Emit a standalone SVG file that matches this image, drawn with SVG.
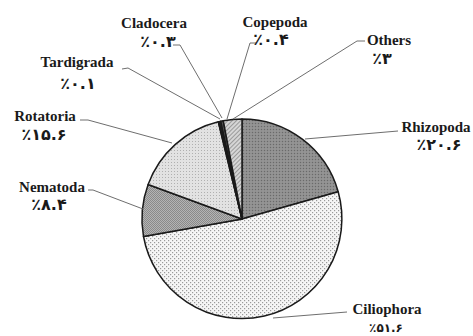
<svg xmlns="http://www.w3.org/2000/svg" width="473" height="336" viewBox="0 0 473 336">
<style>
.lbl{font-family:"Liberation Serif","Times New Roman",serif;font-weight:bold;font-size:15px;fill:#1a1a1a;text-anchor:middle}
.pct{font-family:"DejaVu Sans",sans-serif;font-weight:bold;font-size:16px;fill:#1a1a1a;text-anchor:middle}
.lead{fill:none;stroke:#6e6e6e;stroke-width:1}
.slice{stroke:#1a1a1a;stroke-width:1.5;stroke-linejoin:round}
</style>
<defs>
<pattern id="pRhizo" width="3" height="3" patternUnits="userSpaceOnUse"><rect width="3" height="3" fill="#8e8e8e"/><rect x="0" y="0" width="1" height="1" fill="#6a6a6a"/><rect x="1.5" y="1.5" width="1" height="1" fill="#a8a8a8"/></pattern>
<pattern id="pCilio" width="4" height="4" patternUnits="userSpaceOnUse"><rect width="4" height="4" fill="#f6f6f6"/><rect x="0" y="0" width="1.2" height="1.2" fill="#9a9a9a"/><rect x="2" y="2" width="1.2" height="1.2" fill="#9a9a9a"/></pattern>
<pattern id="pNema" width="2" height="2" patternUnits="userSpaceOnUse"><rect width="2" height="2" fill="#b4b4b4"/><rect width="1" height="1" fill="#8a8a8a"/><rect x="1" y="1" width="1" height="1" fill="#8a8a8a"/></pattern>
<pattern id="pRota" width="3" height="3" patternUnits="userSpaceOnUse"><rect width="3" height="3" fill="#e2e2e2"/><rect width="1" height="1" fill="#b0b0b0"/></pattern>
<pattern id="pOther" width="3" height="3" patternUnits="userSpaceOnUse" patternTransform="rotate(45)"><rect width="3" height="3" fill="#d6d6d6"/><rect width="1" height="3" fill="#9a9a9a"/></pattern>
</defs>
<g id="pie">
<g id="Rhizopoda-slice"><path class="slice" fill="url(#pRhizo)" d="M242,219 L242,119 A100,100 0 0 1 338.2,191.7 Z"/></g>
<g id="Ciliophora-slice"><path class="slice" fill="url(#pCilio)" d="M242,219 L338.2,191.7 A100,100 0 1 1 143.5,236.5 Z"/></g>
<g id="Nematoda-slice"><path class="slice" fill="url(#pNema)" d="M242,219 L143.5,236.5 A100,100 0 0 1 148.1,184.5 Z"/></g>
<g id="Rotatoria-slice"><path class="slice" fill="url(#pRota)" d="M242,219 L148.1,184.5 A100,100 0 0 1 218.3,121.8 Z"/></g>
<g id="Tardigrada-slice"><path class="slice" fill="#222" d="M242,219 L218.3,121.8 A100,100 0 0 1 219.0,121.7 Z"/></g>
<g id="Cladocera-slice"><path class="slice" fill="#333" d="M242,219 L219.0,121.7 A100,100 0 0 1 220.8,121.3 Z"/></g>
<g id="Copepoda-slice"><path class="slice" fill="#555" d="M242,219 L220.8,121.3 A100,100 0 0 1 223.3,120.8 Z"/></g>
<g id="Others-slice"><path class="slice" fill="url(#pOther)" d="M242,219 L223.3,120.8 A100,100 0 0 1 242,119 Z"/></g>
</g>
<g id="connectors">
<polyline class="lead" points="398,131 305,139"/>
<polyline class="lead" points="347,312 273,318"/>
<polyline class="lead" points="80,120 88,120 172,143"/>
<polyline class="lead" points="88,190 93,190 143,209"/>
<polyline class="lead" points="122,69 128,68 220,119"/>
<polyline class="lead" points="173,45 180,45 222,118"/>
<polyline class="lead" points="256,43 250,43 227,119"/>
<polyline class="lead" points="365,41 357,41 233,119"/>
</g>
<g id="Rhizopoda"><text class="lbl" x="436" y="132">Rhizopoda</text><text class="pct" x="439" y="150">٪۲۰.۶</text></g>
<g id="Ciliophora"><text class="lbl" x="387" y="314">Ciliophora</text><text class="pct" x="386" y="332" style="font-size:12px">٪۵۱.۶</text></g>
<g id="Nematoda"><text class="lbl" x="52" y="192">Nematoda</text><text class="pct" x="49" y="210">٪۸.۴</text></g>
<g id="Rotatoria"><text class="lbl" x="45" y="121">Rotatoria</text><text class="pct" x="44" y="140">٪۱۵.۶</text></g>
<g id="Tardigrada"><text class="lbl" x="77" y="67">Tardigrada</text><text class="pct" x="78" y="89">٪۰.۱</text></g>
<g id="Cladocera"><text class="lbl" x="154" y="28">Cladocera</text><text class="pct" x="158" y="47">٪۰.۳</text></g>
<g id="Copepoda"><text class="lbl" x="275" y="27">Copepoda</text><text class="pct" x="271" y="45">٪۰.۴</text></g>
<g id="Others"><text class="lbl" x="389" y="45">Others</text><text class="pct" x="382" y="64">٪۳</text></g>
</svg>
